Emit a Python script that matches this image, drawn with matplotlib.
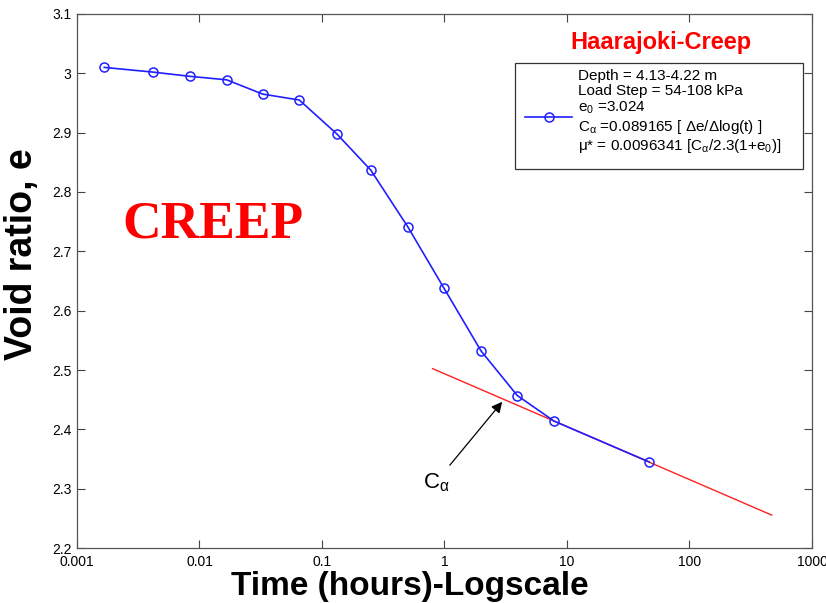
import numpy as np
import matplotlib
matplotlib.use("Agg")
import matplotlib.pyplot as plt
from matplotlib.patches import Rectangle
from matplotlib.lines import Line2D
from matplotlib.ticker import FixedLocator, FuncFormatter, NullLocator

plt.rcParams['font.family'] = ['Liberation Sans', 'DejaVu Sans']
plt.rcParams['mathtext.fontset'] = 'custom'
plt.rcParams['mathtext.rm'] = 'Liberation Sans'
plt.rcParams['mathtext.it'] = 'Liberation Sans:italic'
plt.rcParams['mathtext.bf'] = 'Liberation Sans:bold'

# oedometer creep stage, void ratio vs elapsed time
time_h = [0.00167, 0.0042, 0.0083, 0.0167, 0.0328, 0.0653, 0.132, 0.25,
          0.503, 0.99, 1.99, 3.93, 7.83, 47.0]
void_ratio = [3.010, 3.002, 2.995, 2.989, 2.965, 2.955, 2.898, 2.837,
              2.741, 2.638, 2.532, 2.457, 2.414, 2.345]

# secondary compression line
c_alpha = 0.089165
e_at_1h = 2.4937
fit_range = [0.8, 470.0]

legend_lines = [
    "Depth = 4.13-4.22 m",
    "Load Step = 54-108 kPa",
    r"e$_0$ =3.024",
    r"C$_{\mathrm{\alpha}}$ =0.089165 [ $\mathrm{\Delta}$e/$\mathrm{\Delta}$log(t) ]",
    r"$\mathrm{\mu}$* = 0.0096341 [C$_{\mathrm{\alpha}}$/2.3(1+e$_0$)]",
]

BLUE = '#2020ff'

fig = plt.figure(figsize=(8.26, 6.03), dpi=100)
ax = fig.add_axes([0.0932, 0.0912, 0.8898, 0.8856])

ax.plot(time_h, void_ratio, color=BLUE, lw=1.2, marker='o', ms=6.5,
        mfc='none', mec=BLUE, mew=1.1, zorder=3)

t_fit = np.logspace(np.log10(fit_range[0]), np.log10(fit_range[1]), 50)
e_fit = e_at_1h - c_alpha * np.log10(t_fit)
ax.plot(t_fit, e_fit, color='#ff2020', lw=1.0, zorder=2)

ax.set_xscale('log')
ax.set_xlim(0.001, 1000)
ax.set_ylim(2.2, 3.1)
ax.xaxis.set_major_locator(FixedLocator([1e-3, 1e-2, 1e-1, 1, 10, 100, 1000]))
ax.xaxis.set_minor_locator(NullLocator())
ax.yaxis.set_major_locator(FixedLocator(np.arange(2.2, 3.15, 0.1)))
ax.xaxis.set_major_formatter(FuncFormatter(lambda v, p: f"{v:g}"))
ax.yaxis.set_major_formatter(FuncFormatter(lambda v, p: f"{round(v, 2):g}"))
ax.tick_params(direction='in', length=6, width=0.8, top=True, right=True,
               labelsize=10, color='#444444', pad=4)
ax.tick_params(axis='x', pad=5)
for s in ax.spines.values():
    s.set_color('#555555')
    s.set_linewidth(0.9)

ax.set_xlabel("Time (hours)-Logscale", fontsize=24, fontweight='bold',
              va='baseline')
ax.xaxis.set_label_coords(0.453, -0.088)
ax.set_ylabel("Void ratio, e", fontsize=27, fontweight='bold')
ax.yaxis.set_label_coords(-0.05, 0.55)

# big red stage tag
ax.text(0.00233, 2.745, "CREEP", color='red', fontsize=38.5, fontweight='bold',
        family='Liberation Serif', ha='left', va='center')

# arrow marking the C_alpha slope
ax.annotate("", xy=(3.06, 2.450), xytext=(1.07, 2.336),
            arrowprops=dict(arrowstyle='-|>', color='black', lw=0.9,
                            mutation_scale=16))
ax.text(0.86, 2.31, r"C$_{\mathrm{\alpha}}$", fontsize=16, ha='center',
        va='center')

# legend title and box
ax.text(0.795, 0.946, "Haarajoki-Creep", transform=ax.transAxes, color='red',
        fontsize=17, fontweight='bold', ha='center', va='center')
ax.add_patch(Rectangle((0.596, 0.709), 0.392, 0.200, transform=ax.transAxes,
                       facecolor='white', edgecolor='#333333', lw=0.9,
                       zorder=4))
ax.add_line(Line2D([0.610, 0.642, 0.674], [0.808, 0.808, 0.808],
                   transform=ax.transAxes, color=BLUE, lw=1.2, marker='o',
                   markevery=[1], ms=6.5, mfc='none', mec=BLUE, mew=1.1,
                   zorder=5))
legend_y = [0.884, 0.855, 0.825, 0.788, 0.752]
for line, yy in zip(legend_lines, legend_y):
    ax.text(0.682, yy, line, transform=ax.transAxes, fontsize=11,
            ha='left', va='center', zorder=5)

fig.savefig("out.png", dpi=100, facecolor='white')
